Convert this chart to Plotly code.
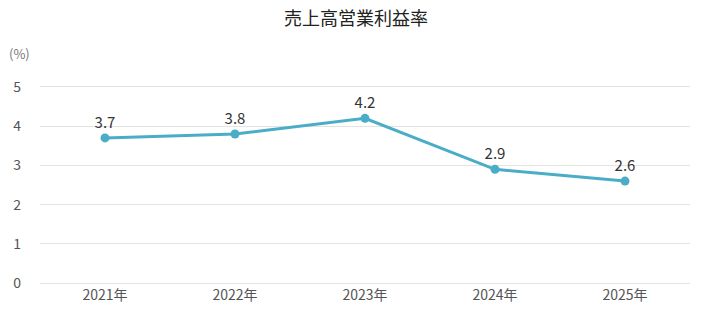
import plotly.graph_objects as go

years = ["2021年", "2022年", "2023年", "2024年", "2025年"]
values = [3.7, 3.8, 4.2, 2.9, 2.6]
y_ticks = [0, 1, 2, 3, 4, 5]

font_family = "Noto Sans CJK JP, Noto Sans, sans-serif"
line_color = "#4aadc7"

fig = go.Figure()
fig.add_trace(go.Scatter(
    x=years, y=values,
    mode="lines+markers+text",
    text=[f"{v:.1f}" for v in values],
    textposition="top center",
    textfont=dict(size=15, color="#333333", family=font_family),
    line=dict(color=line_color, width=3),
    marker=dict(color=line_color, size=9),
    cliponaxis=False,
    hoverinfo="skip",
))

fig.update_layout(
    width=712, height=333,
    margin=dict(l=40, r=22, t=85, b=48),
    paper_bgcolor="white", plot_bgcolor="white",
    showlegend=False,
    font=dict(family=font_family, color="#555555", size=14),
    title=dict(text="売上高営業利益率", x=0.5, xanchor="center", y=0.945, yanchor="middle",
               font=dict(size=18, color="#222222", family=font_family)),
    xaxis=dict(type="category", range=[-0.5, 4.5], showgrid=False, showline=False,
               ticks="", tickfont=dict(size=14, color="#555555")),
    yaxis=dict(range=[-0.05, 5.05], tickvals=y_ticks, showgrid=True, gridcolor="#e3e3e3", gridwidth=1,
               zeroline=False, showline=False, ticks="", ticklabelstandoff=18,
               tickfont=dict(size=14, color="#555555")),
)
fig.add_annotation(text="(%)", xref="paper", yref="paper", x=-0.032, y=1.16,
                   xanchor="center", yanchor="middle", showarrow=False,
                   font=dict(size=13, color="#777777", family=font_family))

fig.write_html("out.html")
